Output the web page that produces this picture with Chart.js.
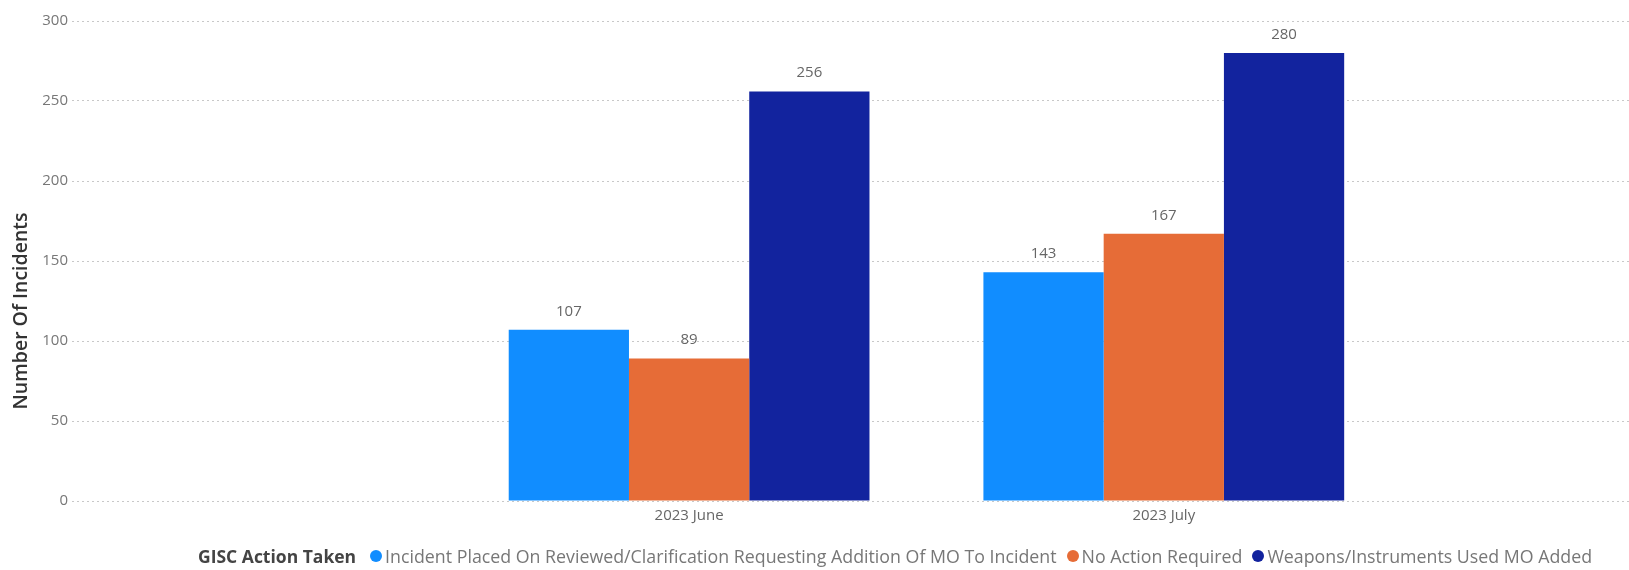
<!DOCTYPE html>
<html>
<head>
<meta charset="utf-8">
<script src="https://cdn.jsdelivr.net/npm/chart.js@4.4.1/dist/chart.umd.min.js"></script>
<style>
  html, body { margin: 0; padding: 0; background: #fff; }
  #wrap { position: relative; width: 1629px; height: 570px; overflow: hidden; }
  #legend {
    position: absolute; left: 198px; top: 544px; line-height: 24px;
    display: flex; align-items: center; white-space: nowrap;
    font-family: "Open Sans", sans-serif; font-size: 17.8px; color: #777;
  }
  #legend .title { font-size: 17.5px; font-weight: 700; color: #444; margin-right: 14px; }
  #legend .item { display: flex; align-items: center; margin-right: 10px; }
  #legend .dot { width: 12px; height: 12px; border-radius: 50%; margin-right: 3px; }
</style>
</head>
<body>
<div id="wrap">
  <canvas id="chart" width="1629" height="570"></canvas>
  <div id="legend"></div>
</div>
<script>
// ── data ──
const months = ['2023 June', '2023 July'];
const monthPos = [1, 2];
const seriesNames = [
    'Incident Placed On Reviewed/Clarification Requesting Addition Of MO To Incident',
    'No Action Required',
    'Weapons/Instruments Used MO Added'
];
const reviewedValues = [107, 143];
const noActionValues = [89, 167];
const weaponsValues = [256, 280];
const yTicks = [0, 50, 100, 150, 200, 250, 300];
const yTitle = 'Number Of Incidents';

const colors = ['#118DFF', '#E66C37', '#12239E'];
const seriesValues = [reviewedValues, noActionValues, weaponsValues];

// value labels above each bar + y axis title (sits a bit below centre, like Power BI)
const extras = {
    id: 'extras',
    afterDatasetsDraw(chart) {
        const ctx = chart.ctx;
        ctx.save();
        ctx.font = '15px "Open Sans", sans-serif';
        ctx.fillStyle = '#666';
        ctx.textAlign = 'center';
        ctx.textBaseline = 'bottom';
        chart.data.datasets.forEach((ds, i) => {
            chart.getDatasetMeta(i).data.forEach((bar, j) => {
                ctx.fillText(String(ds.data[j].y), bar.x, bar.y - 11);
            });
        });
        ctx.restore();
    },
    afterDraw(chart) {
        const ctx = chart.ctx;
        const a = chart.chartArea;
        ctx.save();
        ctx.translate(21, (a.top + a.bottom) / 2 + 50);
        ctx.rotate(-Math.PI / 2);
        ctx.font = '600 19.5px "Open Sans", sans-serif';
        ctx.fillStyle = '#333';
        ctx.textAlign = 'center';
        ctx.textBaseline = 'middle';
        ctx.fillText(yTitle, 0, 0);
        ctx.restore();
    }
};

new Chart(document.getElementById('chart'), {
    type: 'bar',
    data: {
        datasets: seriesNames.map((name, i) => ({
            label: name,
            data: monthPos.map((x, j) => ({ x: x, y: seriesValues[i][j] })),
            backgroundColor: colors[i],
            categoryPercentage: 0.76,
            barPercentage: 1.0,
            borderWidth: 0
        }))
    },
    options: {
        responsive: false,
        animation: false,
        layout: { padding: { top: 21, bottom: 45, left: 0, right: 0 } },
        plugins: { legend: { display: false }, tooltip: { enabled: false } },
        scales: {
            x: {
                type: 'linear',
                offset: false,
                min: -0.3,
                max: 2.98,
                grid: { display: false },
                border: { display: false },
                afterBuildTicks: s => { s.ticks = monthPos.map(v => ({ value: v })); },
                afterFit: s => { s.height = 24; },
                ticks: {
                    callback: v => months[monthPos.indexOf(v)] || '',
                    color: '#666',
                    font: { family: '"Open Sans", sans-serif', size: 15 },
                    padding: -2,
                    maxRotation: 0
                }
            },
            y: {
                min: 0,
                max: 300,
                afterBuildTicks: s => { s.ticks = yTicks.map(v => ({ value: v })); },
                afterFit: s => { s.width = 72; },
                grid: { color: '#c8c8c8', lineWidth: 1, drawTicks: false },
                border: { display: false, dash: [2, 3] },
                ticks: {
                    color: '#777',
                    font: { family: '"Open Sans", sans-serif', size: 15 },
                    padding: 4
                }
            }
        }
    },
    plugins: [extras]
});

// legend
const legend = document.getElementById('legend');
legend.innerHTML = '<span class="title">GISC Action Taken</span>' + seriesNames.map((n, i) =>
    `<span class="item"><span class="dot" style="background:${colors[i]}"></span>${n}</span>`).join('');
</script>
</body>
</html>
